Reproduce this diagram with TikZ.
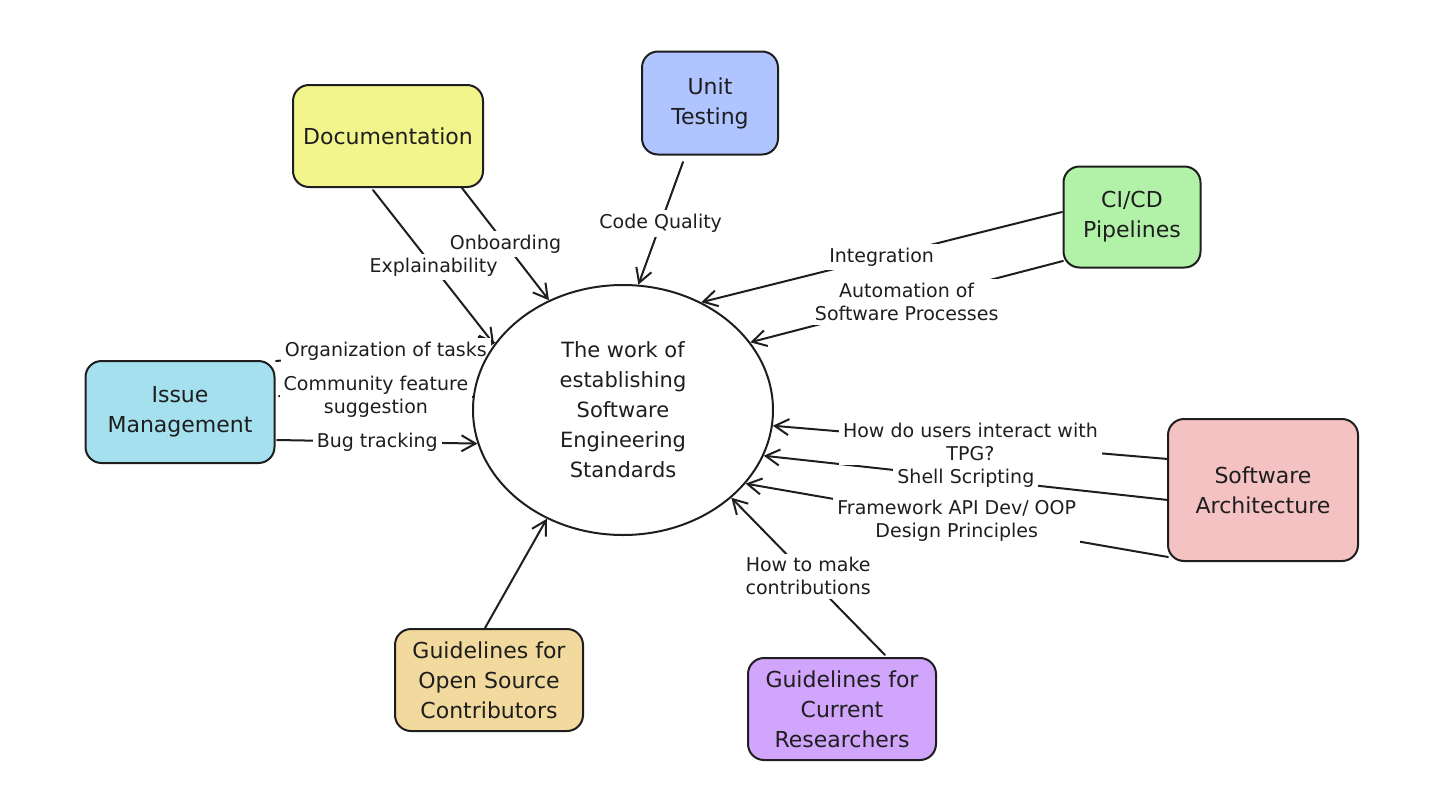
\documentclass[tikz,border=0pt]{standalone}
\usepackage{fontspec}
\setmainfont{DejaVu Sans}
\usetikzlibrary{arrows.meta,shapes.geometric,backgrounds}
\definecolor{ink}{HTML}{1E1E1E}
\definecolor{cyellow}{RGB}{242,245,140}
\definecolor{cblue}{RGB}{176,196,255}
\definecolor{cgreen}{RGB}{178,242,168}
\definecolor{ccyan}{RGB}{165,224,239}
\definecolor{cpink}{RGB}{244,194,194}
\definecolor{ctan}{RGB}{242,218,158}
\definecolor{cpurple}{RGB}{208,165,251}
\begin{document}
\begin{tikzpicture}[x=0.5pt,y=-0.5pt,
  box/.style={draw=ink, line width=1pt, rounded corners=8pt, align=center,
    font=\fontsize{11}{15}\selectfont, text=ink, inner sep=0pt},
  lab/.style={fill=white, font=\fontsize{9.5}{11.5}\selectfont, text=ink, align=center, inner sep=2pt},
  conn/.style={draw=ink, line width=1pt, line cap=round},
  arr/.style={conn, -{Straight Barb[length=7pt,width=8pt,line width=1pt]}}]
\useasboundingbox (0,0) rectangle (1436,798);

% boxes
\node[box, fill=cyellow, minimum width=95pt, minimum height=51pt] (doc) at (388,136) {Documentation};
\node[box, fill=cblue, minimum width=68pt, minimum height=51.5pt] (unit) at (710,103) {Unit\\Testing};
\node[box, fill=cgreen, minimum width=68.5pt, minimum height=50.5pt] (ci) at (1132,217) {CI/CD\\Pipelines};
\node[box, fill=ccyan, minimum width=94.5pt, minimum height=51pt] (issue) at (180,412) {Issue\\Management};
\node[box, fill=cpink, minimum width=95pt, minimum height=71pt] (arch) at (1263,490) {Software\\Architecture};
\node[box, fill=ctan, minimum width=94pt, minimum height=51pt] (oss) at (489,680) {Guidelines for\\Open Source\\Contributors};
\node[box, fill=cpurple, minimum width=94pt, minimum height=51pt] (res) at (842,709) {Guidelines for\\Current\\Researchers};

% central ellipse
\node[ellipse, draw=ink, line width=1pt, minimum width=150pt, minimum height=125pt,
  inner sep=0pt, align=center, text=ink, font=\fontsize{10.5}{15}\selectfont] (c) at (623,410)
  {The work of\\establishing\\Software\\Engineering\\Standards};

% connector start points
\coordinate (sExp) at (373,190);
\coordinate (sOnb) at (462,188);
\coordinate (sCQ) at (683,162);
\coordinate (sInt) at (1062,212);
\coordinate (sAuto) at (1063,261);
\coordinate (sOrg) at (276,361);
\coordinate (sCom) at (279,396);
\coordinate (sBug) at (277,440);
\coordinate (sHow) at (1168,459);
\coordinate (sShell) at (1168,500);
\coordinate (sFrame) at (1168,557);
\coordinate (sContrib) at (885,655);
\coordinate (sOSS) at (485,628);

\begin{pgfonlayer}{background}
\draw[arr] (sExp) -- node[lab, midway] (lExp) {Explainability} (c.153);
\draw[arr] (sOnb) -- node[lab, midway] (lOnb) {Onboarding} (c.124);
\draw[arr] (sCQ) -- node[lab, midway] (lCQ) {Code Quality} (c.83);
\draw[arr] (sInt) -- node[lab, midway] (lInt) {Integration} (c.54);
\draw[arr] (sAuto) -- node[lab, midway] (lAuto) {Automation of\\Software Processes} (c.28);
\draw[conn] (sCom) -- node[lab, midway] (lCom) {Community feature\\suggestion} (c.175);
\draw[arr] (sBug) -- node[lab, midway] (lBug) {Bug tracking} (c.193);
\draw[arr] (sOrg) -- node[lab, midway] (lOrg) {Organization of tasks} (c.152);
\draw[arr] (sFrame) -- node[lab, midway] (lFrame) {Framework API Dev/ OOP\\Design Principles} (c.329);
\draw[arr] (sShell) -- node[lab, midway] (lShell) {Shell Scripting} (c.342);
\draw[arr] (sHow) -- node[lab, midway] (lHow) {How do users interact with\\TPG?} (c.354);
\draw[arr] (sContrib) -- node[lab, midway] (lContrib) {How to make\\contributions} (c.321);
\draw[arr] (sOSS) -- (c.235);
\end{pgfonlayer}
\end{tikzpicture}
\end{document}
